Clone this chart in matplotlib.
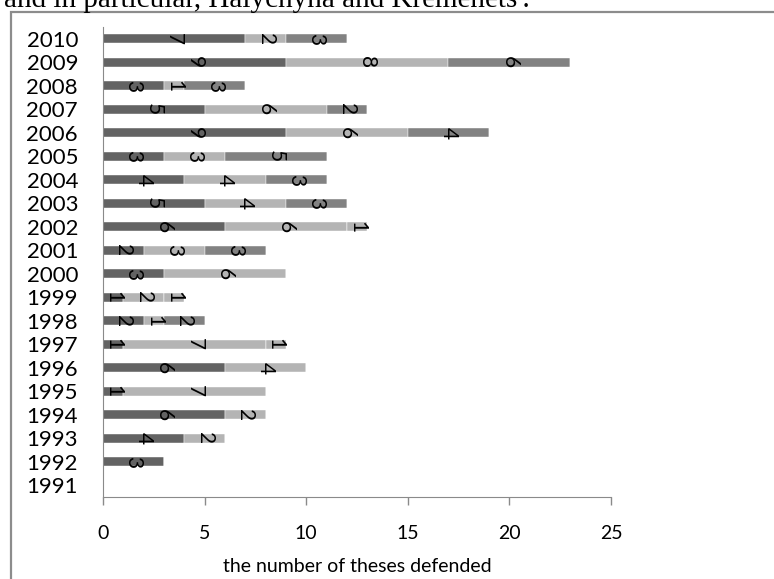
import matplotlib.pyplot as plt
import matplotlib.patches as patches
import numpy as np

plt.rcParams['font.family'] = ['Lato', 'DejaVu Sans']

years = [str(y) for y in range(1991, 2011)]
# theses per year, stacked in four groups (1991 .. 2010)
group_a = [0, 3, 4, 6, 1, 6, 1, 2, 1, 3, 2, 6, 5, 4, 3, 9, 5, 3, 9, 7]
group_b = [0, 0, 2, 2, 7, 4, 7, 1, 2, 6, 3, 6, 4, 4, 3, 6, 6, 1, 8, 2]
group_c = [0, 0, 0, 0, 0, 0, 0, 2, 0, 0, 3, 0, 3, 3, 5, 4, 2, 3, 6, 3]
group_d = [0, 0, 0, 0, 0, 0, 1, 0, 1, 0, 0, 1, 0, 0, 0, 0, 0, 0, 0, 0]

colors = ['#636363', '#b4b4b4', '#828282', '#b4b4b4']

fig = plt.figure(figsize=(7.74, 5.79), dpi=100)
ax = fig.add_axes([103 / 774, 1 - 497 / 579, 508 / 774, 470 / 579])

y = np.arange(len(years))
left = np.zeros(len(years))
for vals, col in zip([group_a, group_b, group_c, group_d], colors):
    vals = np.array(vals, dtype=float)
    bars = ax.barh(y, vals, left=left, height=0.4, color=col,
                   edgecolor='white', linewidth=0.3)
    for b, v in zip(bars, vals):
        if v > 0:
            ax.text(b.get_x() + b.get_width() / 2, b.get_y() + b.get_height() / 2,
                    f'{int(v)}', rotation=-90, ha='center', va='center',
                    fontsize=15, color='black')
    left += vals

ax.set_xlim(0, 25)
ax.set_ylim(-0.5, 19.5)
ax.set_xticks([0, 5, 10, 15, 20, 25])
ax.set_yticks(y)
ax.set_yticklabels(years)
ax.tick_params(axis='y', length=0, pad=18, labelsize=16)
ax.tick_params(axis='x', direction='out', length=6, width=1, color='#8a8a8a',
               pad=14, labelsize=14)
for s in ['top', 'right']:
    ax.spines[s].set_visible(False)
for s in ['left', 'bottom']:
    ax.spines[s].set_color('#8a8a8a')
ax.set_xlabel('the number of theses defended', fontsize=14, labelpad=12)

# outer frame around the chart
frame = patches.Rectangle((11 / 774, -0.1), 1.2, 1 - 12 / 579 + 0.1,
                          transform=fig.transFigure, fill=False,
                          edgecolor='#8c8c8c', linewidth=1.6, clip_on=False)
fig.patches.append(frame)

fig.text(4 / 774, 1 - 7 / 579, "and in particular, Halychyna and Kremenets'.",
         family='Liberation Serif', fontsize=21, ha='left', va='baseline')

fig.savefig('out.png', dpi=100)
